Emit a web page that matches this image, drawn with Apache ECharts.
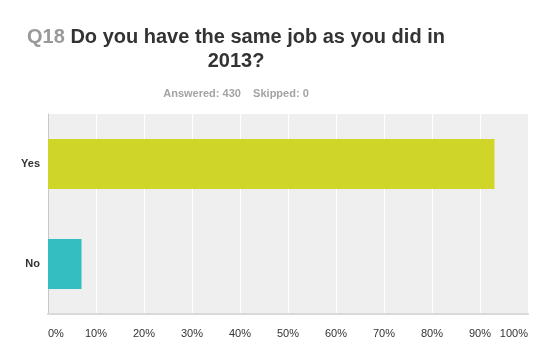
<!DOCTYPE html>
<html>
<head>
<meta charset="utf-8">
<style>html,body{margin:0;padding:0;background:#fff;}#c{width:556px;height:353px;}</style>
<script src="https://cdn.jsdelivr.net/npm/echarts@6/dist/echarts.min.js"></script>
</head>
<body>
<div id="c"></div>
<script>
var categories = ['Yes', 'No'];
var values = [93.02, 6.98];
var barColors = ['#d0d628', '#35bec1'];
var tickLabels = ['0%', '10%', '20%', '30%', '40%', '50%', '60%', '70%', '80%', '90%', '100%'];
var answered = 430;
var skipped = 0;

var FONT = '"Liberation Sans", Arial, sans-serif';
var chart = echarts.init(document.getElementById('c'), null, {renderer: 'canvas'});
chart.setOption({
  animation: false,
  backgroundColor: '#fff',
  title: [{
    left: 231,
    top: 20,
    textAlign: 'center',
    text: '{q|Q18} {t|Do you have the same job as you did in}\n{t|2013?}',
    textStyle: {
      fontFamily: FONT,
      fontSize: 20,
      fontWeight: 'bold',
      lineHeight: 24,
      rich: {
        q: {color: '#999999', fontFamily: FONT, fontSize: 20, fontWeight: 'bold', lineHeight: 24},
        t: {color: '#333333', fontFamily: FONT, fontSize: 20, fontWeight: 'bold', lineHeight: 24}
      }
    }
  }, {
    left: 231,
    top: 83,
    textAlign: 'center',
    text: 'Answered: ' + answered + '    Skipped: ' + skipped,
    textStyle: {fontFamily: FONT, fontSize: 11, fontWeight: 'bold', color: '#a3a3a3'}
  }],
  grid: {
    left: 48, right: 28, top: 114, bottom: 39,
    show: true, backgroundColor: '#efefef', borderWidth: 0
  },
  xAxis: {
    type: 'value', min: 0, max: 100, interval: 10,
    axisLine: {show: true, lineStyle: {color: '#d9d9d9', width: 2}},
    axisTick: {show: false},
    splitLine: {show: true, lineStyle: {color: '#ffffff', width: 1}},
    axisLabel: {
      fontFamily: FONT, fontSize: 11, color: '#333', margin: 14,
      alignMinLabel: 'left', alignMaxLabel: 'right',
      formatter: function (v) { return tickLabels[Math.round(v / 10)]; }
    }
  },
  yAxis: {
    type: 'category', data: categories, inverse: true,
    axisLine: {show: true, lineStyle: {color: '#c8c8c8', width: 1}},
    axisTick: {show: false},
    axisLabel: {fontFamily: FONT, fontSize: 11, fontWeight: 'bold', color: '#333', margin: 8}
  },
  series: [{
    type: 'bar',
    barWidth: '50%',
    data: values.map(function (v, i) { return {value: v, itemStyle: {color: barColors[i]}}; }),
    silent: true
  }]
});
</script>
</body>
</html>
